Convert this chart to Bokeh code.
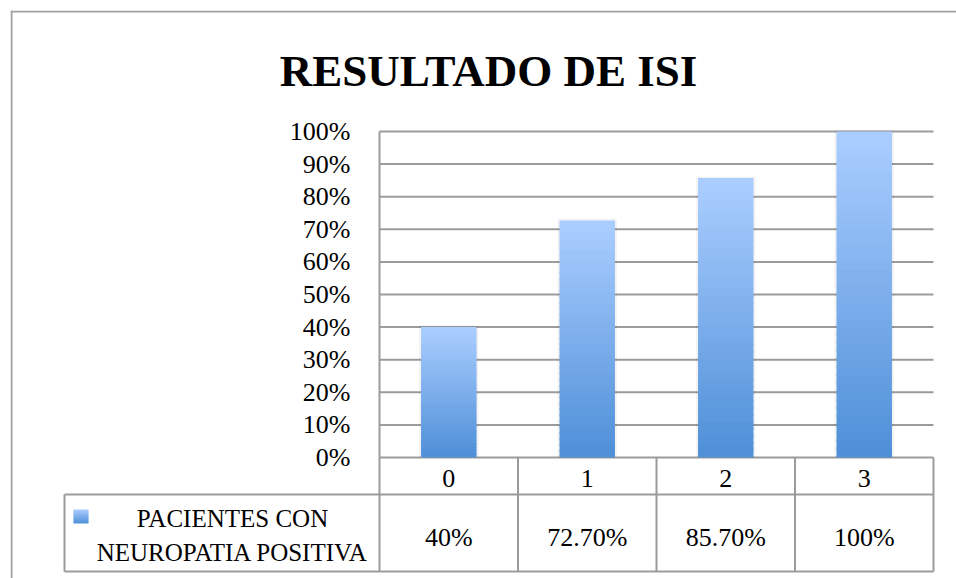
from bokeh.plotting import figure
from bokeh.models import Range1d, LinearAxis, FixedTicker, NumeralTickFormatter, Span
from bokeh.core.properties import value
from bokeh.embed import file_html
from bokeh.resources import INLINE

# ---------------- data ----------------
title_text = "RESULTADO DE ISI"
categories = ["0", "1", "2", "3"]
values = [0.40, 0.727, 0.857, 1.00]
value_labels = ["40%", "72.70%", "85.70%", "100%"]
series_name = "PACIENTES CON\nNEUROPATIA POSITIVA"
y_ticks = [0.0, 0.1, 0.2, 0.3, 0.4, 0.5, 0.6, 0.7, 0.8, 0.9, 1.0]

# ---------------- layout constants ----------------
FONT = "Liberation Serif"
GRID = "#9b9b9b"
TOP_RGB = (171, 206, 255)
BOT_RGB = (78, 143, 216)
PX_X = 138.5     # pixels per category
PX_Y = 326.0     # pixels per 100%
X0_PAGE, Y0_PAGE = 379.0, 457.0   # page position of (x=0, y=0)

def dx(px):
    return (px - X0_PAGE) / PX_X

def dy(py):
    return (Y0_PAGE - py) / PX_Y

W, H = 956, 578
p = figure(width=W, height=H, output_backend="svg", toolbar_location=None,
           x_axis_type=None, y_axis_type=None,
           x_range=Range1d(dx(10), dx(956)), y_range=Range1d(dy(578), dy(10)),
           min_border_left=10, min_border_top=10, min_border_right=0, min_border_bottom=0)
p.outline_line_color = None
p.xgrid.visible = False
p.ygrid.visible = False
p.background_fill_color = "white"
p.border_fill_color = "white"

n = len(categories)
ROW1 = dy(494)
ROW2 = dy(571)
LEG_L = dx(64)

# outer border (left and top visible)
p.add_layout(Span(location=dx(11), dimension="height", line_color="#a0a0a0", line_width=2))
p.add_layout(Span(location=dy(11), dimension="width", line_color="#a0a0a0", line_width=2))

# horizontal grid lines
p.segment(x0=[0] * len(y_ticks), x1=[n] * len(y_ticks), y0=y_ticks, y1=y_ticks,
          line_color=GRID, line_width=2)

# bars drawn as vertical gradient slices
N = 40
ql, qr, qb, qt, qc = [], [], [], [], []
for i, v in enumerate(values):
    for k in range(N):
        f = (k + 0.5) / N
        rgb = tuple(int(round(BOT_RGB[j] + (TOP_RGB[j] - BOT_RGB[j]) * f)) for j in range(3))
        ql.append(i + 0.3)
        qr.append(i + 0.7)
        qb.append(v * k / N)
        top = v * (k + 1) / N
        if k < N - 1:
            top += 1.5 / PX_Y
        qt.append(top)
        qc.append("#%02x%02x%02x" % rgb)
# faint shadow
p.quad(left=[i + 0.3 - 0.014 for i in range(n)], right=[i + 0.7 + 0.014 for i in range(n)],
       bottom=[0] * n, top=[v + 0.005 for v in values], fill_color="#000000", fill_alpha=0.05,
       line_color=None)
p.quad(left=ql, right=qr, bottom=qb, top=qt, fill_color=qc, line_color=None)

# table lines
seg_x0 = [LEG_L, LEG_L, LEG_L] + [float(i) for i in range(n + 1)]
seg_x1 = [n, n, LEG_L] + [float(i) for i in range(n + 1)]
seg_y0 = [ROW1, ROW2, ROW1] + [0.0] * (n + 1)
seg_y1 = [ROW1, ROW2, ROW2] + [ROW2] * (n + 1)
p.segment(x0=seg_x0, x1=seg_x1, y0=seg_y0, y1=seg_y1, line_color=GRID, line_width=2)

# y axis
yax = LinearAxis(fixed_location=0, ticker=FixedTicker(ticks=y_ticks),
                 formatter=NumeralTickFormatter(format="0%"), bounds=(0, 1))
yax.axis_line_color = GRID
yax.axis_line_width = 2
yax.major_tick_line_color = None
yax.minor_tick_line_color = None
yax.major_label_standoff = 23
yax.major_label_text_font = FONT
yax.major_label_text_font_size = "26px"
yax.major_label_text_color = "black"
p.add_layout(yax, "left")

# title
p.text(x=[dx(488)], y=[dy(70)], text=[title_text], text_font=value(FONT),
       text_font_size="45px", text_font_style="bold", text_align="center",
       text_baseline="middle", text_color="black")

# category labels (table row 1)
p.text(x=[i + 0.5 for i in range(n)], y=[dy(478)] * n, text=categories, text_font=value(FONT),
       text_font_size="26px", text_align="center", text_baseline="middle", text_color="black")

# value labels (table row 2)
p.text(x=[i + 0.5 for i in range(n)], y=[dy(537)] * n, text=value_labels, text_font=value(FONT),
       text_font_size="26px", text_align="center", text_baseline="middle", text_color="black")

# legend key
M = 8
kl, kr, kb, kt, kc = [], [], [], [], []
for k in range(M):
    f = (k + 0.5) / M
    rgb = tuple(int(round(BOT_RGB[j] + (TOP_RGB[j] - BOT_RGB[j]) * f)) for j in range(3))
    kb.append(dy(523) + (dy(509) - dy(523)) * k / M)
    kt.append(dy(523) + (dy(509) - dy(523)) * (k + 1) / M + (0.8 / PX_Y if k < M - 1 else 0))
    kl.append(dx(73))
    kr.append(dx(88))
    kc.append("#%02x%02x%02x" % rgb)
p.quad(left=kl, right=kr, bottom=kb, top=kt, fill_color=kc, line_color=None)

# series name
p.text(x=[dx(232)], y=[dy(535)], text=[series_name], text_font=value(FONT),
       text_font_size="25px", text_align="center", text_baseline="middle",
       text_line_height=1.28, text_color="black")

open("out.html", "w").write(file_html(p, INLINE))
